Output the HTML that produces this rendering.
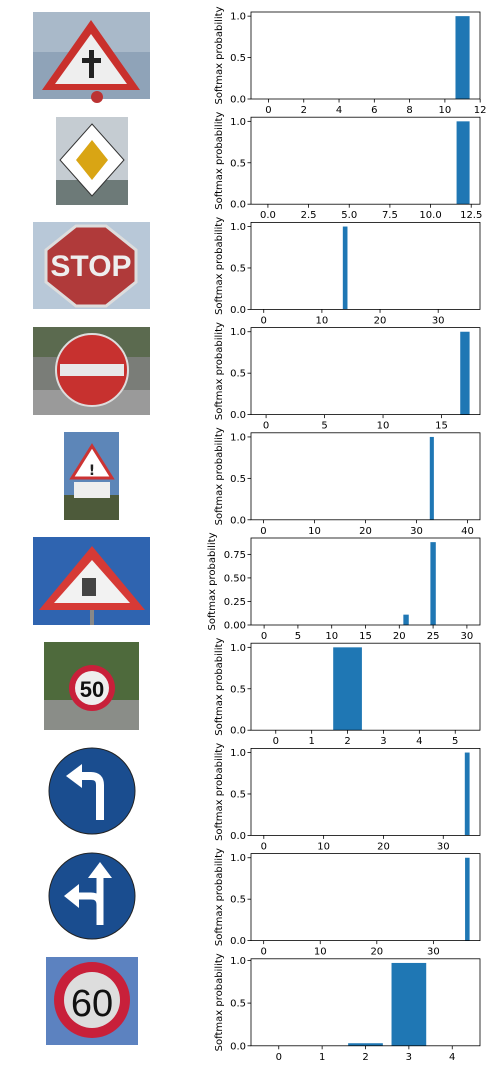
<!DOCTYPE html>
<html><head><meta charset="utf-8">
<style>
html,body{margin:0;padding:0;background:#fff;}
body{width:493px;height:1069px;position:relative;overflow:hidden;font-family:"DejaVu Sans","Liberation Sans",sans-serif;}
svg{position:absolute;left:0;top:0;}
</style></head>
<body>
<svg id="fig" width="493" height="1069">
 <g id="imgs">
  <!-- row1 -->
  <g>
   <rect x="33" y="12" width="117" height="87" fill="#8fa3b8"/>
   <rect x="33" y="12" width="117" height="40" fill="#a9b9c9"/>
   <polygon points="91,20 140,90 42,90" fill="#c9302c"/>
   <polygon points="91,34 127,84 55,84" fill="#eee"/>
   <rect x="89" y="50" width="5" height="28" fill="#222"/><rect x="82" y="58" width="19" height="5" fill="#222"/>
   <circle cx="97" cy="97" r="6" fill="#b33"/>
  </g>
  <!-- row2 -->
  <g>
   <rect x="56" y="117" width="72" height="88" fill="#c5ccd2"/>
   <rect x="56" y="180" width="72" height="25" fill="#6d7a78"/>
   <polygon points="92,124 124,160 92,196 60,160" fill="#fff" stroke="#333" stroke-width="1"/>
   <polygon points="92,140 108,160 92,180 76,160" fill="#d9a514"/>
  </g>
  <!-- row3 -->
  <g>
   <rect x="33" y="222" width="117" height="87" fill="#b8c8d8"/>
   <polygon points="76,226 106,226 136,250 136,282 106,306 76,306 46,282 46,250" fill="#b03a3a" stroke="#ddd" stroke-width="3"/>
   <text x="91" y="276" font-size="30" font-weight="bold" fill="#eee" text-anchor="middle" font-family="Liberation Sans, sans-serif">STOP</text>
  </g>
  <!-- row4 -->
  <g>
   <rect x="33" y="327" width="117" height="88" fill="#7a7d78"/>
   <rect x="33" y="327" width="117" height="30" fill="#5b6a4f"/>
   <rect x="33" y="390" width="117" height="25" fill="#9a9a9a"/>
   <circle cx="92" cy="370" r="36" fill="#c7312f" stroke="#ddd" stroke-width="2"/>
   <rect x="60" y="364" width="64" height="12" fill="#e8e8e8"/>
  </g>
  <!-- row5 -->
  <g>
   <rect x="64" y="432" width="55" height="88" fill="#5d86b8"/>
   <rect x="64" y="495" width="55" height="25" fill="#4d5a3a"/>
   <polygon points="92,446 112,478 72,478" fill="#fff" stroke="#c33" stroke-width="3"/>
   <text x="92" y="475" font-size="14" font-weight="bold" text-anchor="middle" fill="#222">!</text>
   <rect x="74" y="482" width="36" height="16" fill="#eee"/>
  </g>
  <!-- row6 -->
  <g>
   <rect x="33" y="537" width="117" height="88" fill="#2f64b0"/>
   <polygon points="92,546 145,610 39,610" fill="#d63a36"/>
   <polygon points="92,560 130,603 54,603" fill="#f2f2f2"/>
   <rect x="82" y="578" width="14" height="18" fill="#444"/>
   <rect x="90" y="610" width="4" height="15" fill="#888"/>
  </g>
  <!-- row7 -->
  <g>
   <rect x="44" y="642" width="95" height="88" fill="#4e6a3c"/>
   <rect x="44" y="700" width="95" height="30" fill="#8a8d88"/>
   <circle cx="92" cy="688" r="23" fill="#c8203a"/>
   <circle cx="92" cy="688" r="17" fill="#eee"/>
   <text x="92" y="697" font-size="22" font-weight="bold" text-anchor="middle" fill="#111" font-family="Liberation Sans, sans-serif">50</text>
  </g>
  <!-- row8 -->
  <g>
   <circle cx="92" cy="791" r="43" fill="#1a4d8f" stroke="#222" stroke-width="1"/>
   <path d="M100,820 L100,785 Q100,776 91,776 L80,776" stroke="#fff" stroke-width="8" fill="none"/>
   <polygon points="66,776 82,764 82,788" fill="#fff"/>
  </g>
  <!-- row9 -->
  <g>
   <circle cx="92" cy="896" r="43" fill="#1a4d8f" stroke="#222" stroke-width="1"/>
   <path d="M100,925 L100,878 M100,905 Q100,896 91,896 L78,896" stroke="#fff" stroke-width="7" fill="none"/>
   <polygon points="100,862 112,878 88,878" fill="#fff"/>
   <polygon points="64,896 79,884 79,908" fill="#fff"/>
  </g>
  <!-- row10 -->
  <g>
   <rect x="46" y="957" width="92" height="88" fill="#5c82c0"/>
   <circle cx="92" cy="1000" r="38" fill="#c8203a"/>
   <circle cx="92" cy="1000" r="28" fill="#ddd"/>
   <text x="92" y="1016" font-size="38" text-anchor="middle" fill="#111" font-family="Liberation Sans, sans-serif">60</text>
  </g>
 </g>
 <g id="charts"></g>
</svg>
<script>
// data per row (class indices and softmax probabilities)
const classes1=[0,1,5,7,11]; const probs1=[0,0,0,0,1.0];
const classes2=[0,2,9,12]; const probs2=[0,0,0,1.0];
const classes3=[0,14,35]; const probs3=[0,1.0,0];
const classes4=[0,9,17]; const probs4=[0,0,1.0];
const classes5=[0,20,33,40]; const probs5=[0,0,1.0,0];
const classes6=[0,21,25,30]; const probs6=[0,0.11,0.88,0];
const classes7=[0,1,2,3,5]; const probs7=[0,0,1.0,0,0];
const classes8=[0,12,34]; const probs8=[0,0,1.0];
const classes9=[0,18,36]; const probs9=[0,0,1.0];
const classes10=[0,1,2,3,4]; const probs10=[0,0,0.03,0.97,0];
const xticks=[[0,2,4,6,8,10,12],[0,2.5,5,7.5,10,12.5],[0,10,20,30],[0,5,10,15],[0,10,20,30,40],[0,5,10,15,20,25,30],[0,1,2,3,4,5],[0,10,20,30],[0,10,20,30],[0,1,2,3,4]];
const xtickLabels=[null,["0.0","2.5","5.0","7.5","10.0","12.5"],null,null,null,null,null,null,null,null];
const yticks=[[0,0.5,1.0],[0,0.5,1.0],[0,0.5,1.0],[0,0.5,1.0],[0,0.5,1.0],[0,0.25,0.5,0.75],[0,0.5,1.0],[0,0.5,1.0],[0,0.5,1.0],[0,0.5,1.0]];
const ytickLabels=[["0.0","0.5","1.0"],null,null,null,null,["0.00","0.25","0.50","0.75"],null,null,null,null];

const allC=[classes1,classes2,classes3,classes4,classes5,classes6,classes7,classes8,classes9,classes10];
const allP=[probs1,probs2,probs3,probs4,probs5,probs6,probs7,probs8,probs9,probs10];
const NS="http://www.w3.org/2000/svg";
const root=document.getElementById('charts');
function mk(t,a,p){const e=document.createElementNS(NS,t);for(const k in a)e.setAttribute(k,a[k]);p.appendChild(e);return e;}
const L=251,R=480,H=87;
for(let r=0;r<10;r++){
  const top=12+r*105.2, bot=top+H;
  const C=allC[r],P=allP[r];
  const g=mk('g',{},root);
  
  
  const lo=Math.min(...C)-0.4, hi=Math.max(...C)+0.4, m=(hi-lo)*0.05;
  const x0=lo-m,x1=hi+m;
  const ymax=Math.max(...P)*1.05;
  const xs=v=>L+(v-x0)/(x1-x0)*(R-L);
  const ys=v=>bot-v/ymax*H;
  for(let i=0;i<C.length;i++){
    const b=mk('rect',{x:xs(C[i]-0.4),y:ys(P[i]),width:xs(C[i]+0.4)-xs(C[i]-0.4),height:bot-ys(P[i]),fill:'#1f77b4'},g);
    
    
  }
  const fr=mk('rect',{x:L,y:top,width:R-L,height:H,fill:'none',stroke:'#000','stroke-width':0.8},g);
  
  
  xticks[r].forEach((t,i)=>{
    const x=xs(t);
    mk('line',{x1:x,x2:x,y1:bot,y2:bot+3.5,stroke:'#000','stroke-width':0.8},g);
    const tx=mk('text',{x:x,y:bot+14,'font-size':10,'text-anchor':'middle',fill:'#000'},g);
    tx.textContent=xtickLabels[r]?xtickLabels[r][i]:String(t);
    
    
  });
  yticks[r].forEach((t,i)=>{
    const y=ys(t);
    mk('line',{x1:L-3.5,x2:L,y1:y,y2:y,stroke:'#000','stroke-width':0.8},g);
    const tx=mk('text',{x:L-5,y:y+3.5,'font-size':10,'text-anchor':'end',fill:'#000'},g);
    tx.textContent=ytickLabels[r]?ytickLabels[r][i]:t.toFixed(1);
    
    
  });
  const lx=(r==5)?215:222, ly=top+H/2;
  const yl=mk('text',{x:lx,y:ly,'font-size':10,'text-anchor':'middle',fill:'#000',transform:`rotate(-90 ${lx} ${ly})`},g);
  yl.textContent='Softmax probability';
  
  
}
</script>
</body></html>
